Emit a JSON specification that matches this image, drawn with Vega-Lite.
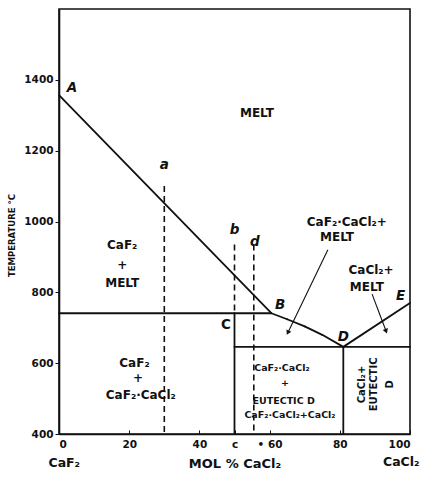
{
  "$schema": "https://vega.github.io/schema/vega-lite/v6.json",
  "width": 351,
  "height": 425,
  "autosize": "none",
  "padding": {"top": 9, "left": 59, "right": 12, "bottom": 48},
  "background": "white",
  "config": {
    "view": {"stroke": "#111", "strokeWidth": 1.6},
    "font": "DejaVu Sans",
    "axis": {"domainColor": "#111", "domainWidth": 1.6, "tickColor": "#111", "labelColor": "#111", "titleColor": "#111", "grid": false, "labelFont": "DejaVu Sans", "titleFont": "DejaVu Sans"}
  },
  "datasets": {
    "solid": [
      {"x1": 0, "y1": 1357, "x2": 60.5, "y2": 741},
      {"x1": 0, "y1": 741, "x2": 60.5, "y2": 741},
      {"x1": 60.5, "y1": 741, "x2": 65, "y2": 724},
      {"x1": 65, "y1": 724, "x2": 70, "y2": 704},
      {"x1": 70, "y1": 704, "x2": 75, "y2": 680},
      {"x1": 75, "y1": 680, "x2": 81, "y2": 646},
      {"x1": 81, "y1": 646, "x2": 100, "y2": 770},
      {"x1": 50, "y1": 741, "x2": 50, "y2": 400},
      {"x1": 50, "y1": 646, "x2": 100, "y2": 646},
      {"x1": 81, "y1": 646, "x2": 81, "y2": 400}
    ],
    "dashed": [
      {"x1": 30, "y1": 1100, "x2": 30, "y2": 400},
      {"x1": 50, "y1": 935, "x2": 50, "y2": 741},
      {"x1": 55.5, "y1": 935, "x2": 55.5, "y2": 400}
    ],
    "arrows": [
      {"id": "a1", "x1": 76.6, "y1": 920, "x2": 65.2, "y2": 686},
      {"id": "a2", "x1": 89.2, "y1": 795, "x2": 93.2, "y2": 690}
    ],
    "labels": [
      {"role": "point", "x": 3.7, "y": 1377, "text": "A"},
      {"role": "point", "x": 63, "y": 764, "text": "B"},
      {"role": "point", "x": 81, "y": 673, "text": "D"},
      {"role": "point", "x": 97.3, "y": 790, "text": "E"},
      {"role": "point", "x": 30, "y": 1160, "text": "a"},
      {"role": "point", "x": 50, "y": 976, "text": "b"},
      {"role": "point", "x": 55.8, "y": 942, "text": "d"},
      {"role": "upright", "x": 47.6, "y": 708, "text": "C"},
      {"role": "region", "x": 56.4, "y": 1307, "text": "MELT"},
      {"role": "region", "x": 18, "y": 934, "text": "CaF₂"},
      {"role": "region", "x": 18, "y": 877, "text": "+"},
      {"role": "region", "x": 18, "y": 827, "text": "MELT"},
      {"role": "region", "x": 21.5, "y": 600, "text": "CaF₂"},
      {"role": "region", "x": 22.5, "y": 557, "text": "+"},
      {"role": "region", "x": 23.3, "y": 510, "text": "CaF₂·CaCl₂"},
      {"role": "region", "x": 82, "y": 999, "text": "CaF₂·CaCl₂+"},
      {"role": "region", "x": 79.2, "y": 957, "text": "MELT"},
      {"role": "region", "x": 88.9, "y": 863, "text": "CaCl₂+"},
      {"role": "region", "x": 87.7, "y": 815, "text": "MELT"},
      {"role": "box", "x": 63.5, "y": 586, "text": "CaF₂·CaCl₂"},
      {"role": "box", "x": 64.4, "y": 544, "text": "+"},
      {"role": "box", "x": 64, "y": 493, "text": "EUTECTIC  D"},
      {"role": "box", "x": 65.8, "y": 454, "text": "CaF₂·CaCl₂+CaCl₂"},
      {"role": "rot", "x": 86.3, "y": 540, "text": "CaCl₂+"},
      {"role": "rot", "x": 89.7, "y": 540, "text": "EUTECTIC"},
      {"role": "rot", "x": 94.3, "y": 540, "text": "D"},
      {"role": "end", "x": 1.5, "y": 318, "text": "CaF₂"},
      {"role": "end", "x": 97.5, "y": 320, "text": "CaCl₂"}
    ]
  },
  "encoding": {
    "x": {"field": "x1", "type": "quantitative", "scale": {"domain": [0, 100], "nice": false, "zero": false},
      "axis": {"title": "MOL % CaCl₂", "values": [0, 20, 40, 50, 60, 80, 100],
        "labelExpr": "datum.value == 50 ? 'c' : datum.value == 60 ? '• 60' : datum.label",
        "tickSize": -4, "labelPadding": 9, "labelFontSize": 10.5, "labelFontWeight": "bold",
        "titleFontSize": 13, "titleFontWeight": "bold", "titlePadding": 8}},
    "y": {"field": "y1", "type": "quantitative", "scale": {"domain": [400, 1600], "nice": false, "zero": false},
      "axis": {"title": "TEMPERATURE °C", "values": [400, 600, 800, 1000, 1200, 1400], "format": "d",
        "tickSize": 4, "labelPadding": 2, "labelFontSize": 10.5, "labelFontWeight": "bold",
        "titleFontSize": 8.5, "titleFontWeight": "bold", "titleX": -43, "titleY": 226}}
  },
  "layer": [
    {"data": {"name": "solid"}, "mark": {"type": "rule", "color": "#111", "strokeWidth": 1.8, "strokeCap": "round"},
      "encoding": {"x2": {"field": "x2"}, "y2": {"field": "y2"}}},
    {"data": {"name": "dashed"}, "mark": {"type": "rule", "color": "#111", "strokeWidth": 1.6, "strokeDash": [6, 4]},
      "encoding": {"x2": {"field": "x2"}, "y2": {"field": "y2"}}},
    {"data": {"name": "arrows"}, "mark": {"type": "rule", "color": "#111", "strokeWidth": 1.1},
      "encoding": {"x2": {"field": "x2"}, "y2": {"field": "y2"}}},
    {"data": {"name": "arrows"}, "transform": [{"filter": "datum.id == 'a1'"}],
      "mark": {"type": "point", "shape": "triangle-up", "filled": true, "color": "#111", "size": 30, "angle": 206, "opacity": 1},
      "encoding": {"x": {"field": "x2", "type": "quantitative"}, "y": {"field": "y2", "type": "quantitative"}}},
    {"data": {"name": "arrows"}, "transform": [{"filter": "datum.id == 'a2'"}],
      "mark": {"type": "point", "shape": "triangle-up", "filled": true, "color": "#111", "size": 30, "angle": 159, "opacity": 1},
      "encoding": {"x": {"field": "x2", "type": "quantitative"}, "y": {"field": "y2", "type": "quantitative"}}},
    {"data": {"name": "labels"}, "transform": [{"filter": "datum.role == 'point'"}],
      "mark": {"type": "text", "font": "DejaVu Sans", "fontStyle": "italic", "fontWeight": "bold", "fontSize": 13.5, "color": "#111", "baseline": "middle", "align": "center"},
      "encoding": {"x": {"field": "x", "type": "quantitative"}, "y": {"field": "y", "type": "quantitative"}, "text": {"field": "text"}}},
    {"data": {"name": "labels"}, "transform": [{"filter": "datum.role == 'upright'"}],
      "mark": {"type": "text", "font": "DejaVu Sans", "fontWeight": "bold", "fontSize": 13.5, "color": "#111", "baseline": "middle", "align": "center"},
      "encoding": {"x": {"field": "x", "type": "quantitative"}, "y": {"field": "y", "type": "quantitative"}, "text": {"field": "text"}}},
    {"data": {"name": "labels"}, "transform": [{"filter": "datum.role == 'region'"}],
      "mark": {"type": "text", "font": "DejaVu Sans", "fontWeight": "bold", "fontSize": 12, "color": "#111", "baseline": "middle", "align": "center"},
      "encoding": {"x": {"field": "x", "type": "quantitative"}, "y": {"field": "y", "type": "quantitative"}, "text": {"field": "text"}}},
    {"data": {"name": "labels"}, "transform": [{"filter": "datum.role == 'box'"}],
      "mark": {"type": "text", "font": "DejaVu Sans", "fontWeight": "bold", "fontSize": 9.5, "color": "#111", "baseline": "middle", "align": "center"},
      "encoding": {"x": {"field": "x", "type": "quantitative"}, "y": {"field": "y", "type": "quantitative"}, "text": {"field": "text"}}},
    {"data": {"name": "labels"}, "transform": [{"filter": "datum.role == 'rot'"}],
      "mark": {"type": "text", "font": "DejaVu Sans", "fontWeight": "bold", "fontSize": 10, "color": "#111", "baseline": "middle", "align": "center", "angle": 270},
      "encoding": {"x": {"field": "x", "type": "quantitative"}, "y": {"field": "y", "type": "quantitative"}, "text": {"field": "text"}}},
    {"data": {"name": "labels"}, "transform": [{"filter": "datum.role == 'end'"}],
      "mark": {"type": "text", "font": "DejaVu Sans", "fontWeight": "bold", "fontSize": 12.5, "color": "#111", "baseline": "middle", "align": "center"},
      "encoding": {"x": {"field": "x", "type": "quantitative"}, "y": {"field": "y", "type": "quantitative"}, "text": {"field": "text"}}}
  ]
}
